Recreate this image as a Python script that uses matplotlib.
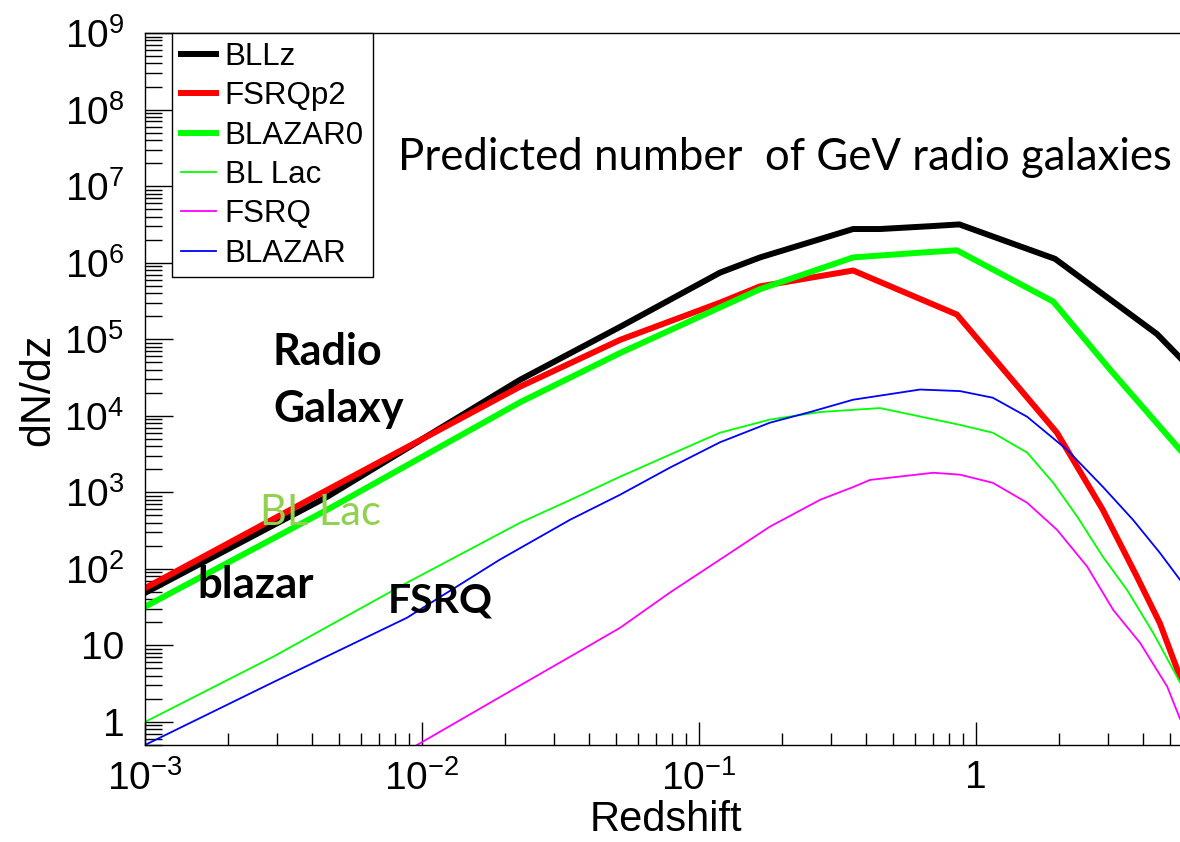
import numpy as np
import matplotlib
matplotlib.use("Agg")
import matplotlib.pyplot as plt
from matplotlib.ticker import FixedLocator, FixedFormatter, LogLocator, NullFormatter

plt.rcParams['font.family'] = ['Liberation Sans', 'DejaVu Sans']
plt.rcParams['mathtext.fontset'] = 'custom'
plt.rcParams['mathtext.rm'] = 'Liberation Sans'
plt.rcParams['mathtext.it'] = 'Liberation Sans:italic'

# curves (redshift, dN/dz)
z_bllz = [0.001, 0.00454, 0.0226, 0.0519, 0.119, 0.166, 0.36, 0.45, 0.69, 0.87, 1.93, 4.5, 5.45]
n_bllz = [48.5, 871, 2.95e4, 1.45e5, 7.4e5, 1.17e6, 2.75e6, 2.75e6, 3.0e6, 3.16e6, 1.12e6, 1.17e5, 5.75e4]

z_fsrqp2 = [0.001, 0.00454, 0.0226, 0.0519, 0.119, 0.166, 0.36, 0.853, 1.96, 2.87, 3.81, 4.61, 5.45]
n_fsrqp2 = [56, 1070, 2.4e4, 9.8e4, 3.0e5, 4.9e5, 7.9e5, 2.1e5, 6.0e3, 590, 79, 19.5, 3.9]

z_blazar0 = [0.001, 0.00454, 0.0226, 0.0519, 0.119, 0.166, 0.36, 0.628, 0.853, 1.90, 3.05, 5.45]
n_blazar0 = [32, 590, 1.5e4, 6.6e4, 2.6e5, 4.5e5, 1.17e6, 1.35e6, 1.45e6, 3.1e5, 4.0e4, 3.6e3]

z_bllac = [0.001, 0.0029, 0.00883, 0.0226, 0.0342, 0.0519, 0.0785, 0.119, 0.18, 0.274, 0.45,
           0.875, 1.15, 1.53, 1.90, 2.32, 2.87, 3.51, 4.36, 5.45]
n_bllac = [1.0, 7.1, 66, 400, 790, 1.6e3, 3.1e3, 6.0e3, 8.9e3, 1.12e4, 1.26e4,
           7.6e3, 6.0e3, 3.3e3, 1.33e3, 480, 144, 53, 14.6, 3.3]

z_fsrq = [0.00959, 0.0226, 0.0342, 0.0519, 0.0785, 0.119, 0.18, 0.274, 0.36, 0.414, 0.70,
          0.875, 1.15, 1.53, 1.96, 2.52, 3.13, 3.91, 4.90, 5.45]
n_fsrq = [0.5, 3.0, 7.1, 17, 49, 132, 355, 800, 1.17e3, 1.45e3, 1.8e3,
          1.7e3, 1.33e3, 730, 324, 107, 29, 10.8, 2.9, 1.1]

z_blazar = [0.001, 0.0029, 0.00883, 0.0191, 0.0342, 0.0519, 0.0785, 0.119, 0.18, 0.252, 0.36,
            0.628, 0.875, 1.15, 1.53, 2.13, 2.87, 3.69, 4.61, 5.45]
n_blazar = [0.5, 3.3, 23, 132, 437, 930, 2.1e3, 4.5e3, 8.1e3, 1.12e4, 1.62e4,
            2.2e4, 2.1e4, 1.72e4, 9.7e3, 3.6e3, 1.18e3, 436, 162, 72]

xticks = [1e-3, 1e-2, 1e-1, 1]
xtick_labels = [r'$10^{-3}$', r'$10^{-2}$', r'$10^{-1}$', '1']
yticks = [1, 10, 1e2, 1e3, 1e4, 1e5, 1e6, 1e7, 1e8, 1e9]
ytick_labels = ['1', '10'] + [r'$10^{%d}$' % k for k in range(2, 10)]

W, H = 1180, 842
fig = plt.figure(figsize=(W / 100, H / 100), dpi=100)
ax = fig.add_axes([145 / W, 1 - 745 / H, (W - 145) / W, (745 - 33) / H])

thick, thin = 4.3, 1.3
ax.plot(z_bllz, n_bllz, color='black', lw=thick, label='BLLz')
ax.plot(z_fsrqp2, n_fsrqp2, color='#ff0000', lw=thick, label='FSRQp2')
ax.plot(z_blazar0, n_blazar0, color='#00ff00', lw=thick, label='BLAZAR0')
ax.plot(z_bllac, n_bllac, color='#00ff00', lw=thin, label='BL Lac')
ax.plot(z_fsrq, n_fsrq, color='#ff00ff', lw=thin, label='FSRQ')
ax.plot(z_blazar, n_blazar, color='#0000ff', lw=thin, label='BLAZAR')

ax.set_xscale('log')
ax.set_yscale('log')
ax.set_xlim(1e-3, 5.45)
ax.set_ylim(0.5, 1e9)

ax.xaxis.set_major_locator(FixedLocator(xticks))
ax.xaxis.set_major_formatter(FixedFormatter(xtick_labels))
ax.yaxis.set_major_locator(FixedLocator(yticks))
ax.yaxis.set_major_formatter(FixedFormatter(ytick_labels))
ax.xaxis.set_minor_locator(LogLocator(base=10, subs=np.arange(2, 10), numticks=20))
ax.yaxis.set_minor_locator(LogLocator(base=10, subs=np.arange(2, 10), numticks=20))
ax.xaxis.set_minor_formatter(NullFormatter())
ax.yaxis.set_minor_formatter(NullFormatter())

ax.tick_params(axis='both', which='both', direction='in', width=1.0, colors='black')
ax.tick_params(axis='x', which='major', length=16.5, pad=11, labelsize=28)
ax.tick_params(axis='x', which='minor', length=8.3)
ax.tick_params(axis='y', which='major', length=20, pad=15, labelsize=28)
ax.tick_params(axis='y', which='minor', length=12)
ax.spines['right'].set_visible(False)
for s in ['left', 'bottom', 'top']:
    ax.spines[s].set_linewidth(1.0)

fig.text(666 / W, 1 - 840 / H, 'Redshift', fontsize=30, ha='center', va='bottom')
fig.text(38 / W, 1 - 390 / H, 'dN/dz', fontsize=31, ha='center', va='center', rotation=90)

leg = ax.legend(loc='upper left', bbox_to_anchor=(172 / W, 1 - 33 / H),
                bbox_transform=fig.transFigure, fontsize=22.5, frameon=True,
                fancybox=False, edgecolor='black', framealpha=1, borderaxespad=0,
                handlelength=1.12, handletextpad=0.29, labelspacing=0.3,
                borderpad=0.28)
leg.get_frame().set_linewidth(1.0)

cal = ['Lato', 'DejaVu Sans']
fig.text(398 / W, 1 - 170 / H, 'Predicted number  of GeV radio galaxies',
         fontsize=31.5, family=cal, ha='left', va='baseline')
fig.text(273 / W, 1 - 365 / H, 'Radio', fontsize=31, family=cal, weight='bold', va='baseline')
fig.text(273 / W, 1 - 422 / H, 'Galaxy', fontsize=31, family=cal, weight='bold', va='baseline')
fig.text(260 / W, 1 - 525 / H, 'BL Lac', fontsize=30, family=cal, color='#92d050', va='baseline')
fig.text(197 / W, 1 - 598 / H, 'blazar', fontsize=31.5, family=cal, weight='bold', va='baseline')
fig.text(388 / W, 1 - 613 / H, 'FSRQ', fontsize=29.5, family=cal, weight='bold', va='baseline')

fig.savefig('out.png', dpi=100)
